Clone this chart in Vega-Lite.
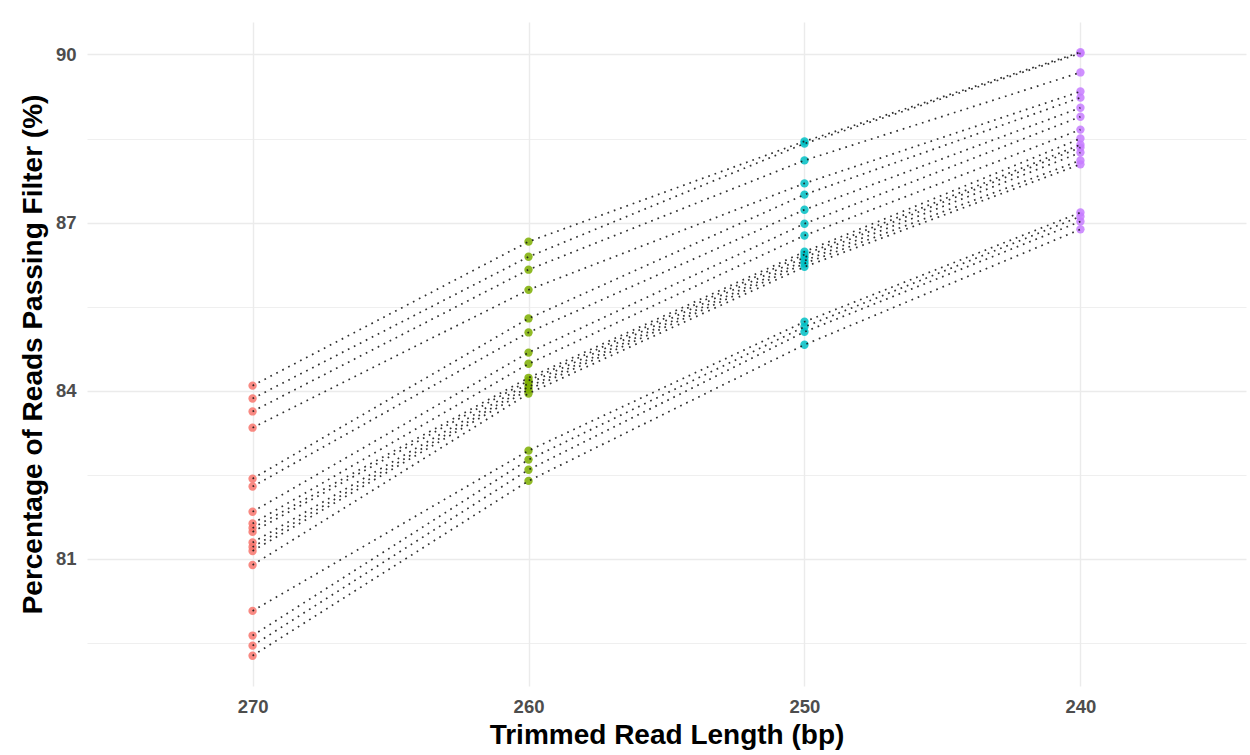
{
  "$schema": "https://vega.github.io/schema/vega-lite/v6.json",
  "autosize": "none",
  "width": 1159,
  "height": 664,
  "padding": {"left": 87, "top": 22, "right": 4, "bottom": 69},
  "background": "white",
  "config": {
    "view": {"stroke": null},
    "font": "Liberation Sans",
    "axis": {
      "domain": false,
      "ticks": false,
      "gridColor": "#EBEBEB",
      "labelFont": "Liberation Sans",
      "labelFontWeight": "bold",
      "labelColor": "#4D4D4D",
      "labelFontSize": 18.5,
      "titleFont": "Liberation Sans",
      "titleFontWeight": "bold",
      "titleColor": "#000000",
      "titleFontSize": 28
    }
  },
  "data": {
    "values": [
      {"sample": "S01", "len": 270, "pct": 84.09}, {"sample": "S01", "len": 260, "pct": 86.66}, {"sample": "S01", "len": 250, "pct": 88.45}, {"sample": "S01", "len": 240, "pct": 90.04},
      {"sample": "S02", "len": 270, "pct": 83.86}, {"sample": "S02", "len": 260, "pct": 86.39}, {"sample": "S02", "len": 250, "pct": 88.41}, {"sample": "S02", "len": 240, "pct": 90.02},
      {"sample": "S03", "len": 270, "pct": 83.63}, {"sample": "S03", "len": 260, "pct": 86.16}, {"sample": "S03", "len": 250, "pct": 88.11}, {"sample": "S03", "len": 240, "pct": 89.68},
      {"sample": "S04", "len": 270, "pct": 83.34}, {"sample": "S04", "len": 260, "pct": 85.80}, {"sample": "S04", "len": 250, "pct": 87.70}, {"sample": "S04", "len": 240, "pct": 89.34},
      {"sample": "S05", "len": 270, "pct": 82.43}, {"sample": "S05", "len": 260, "pct": 85.29}, {"sample": "S05", "len": 250, "pct": 87.50}, {"sample": "S05", "len": 240, "pct": 89.23},
      {"sample": "S06", "len": 270, "pct": 82.29}, {"sample": "S06", "len": 260, "pct": 85.04}, {"sample": "S06", "len": 250, "pct": 87.23}, {"sample": "S06", "len": 240, "pct": 89.05},
      {"sample": "S07", "len": 270, "pct": 81.84}, {"sample": "S07", "len": 260, "pct": 84.68}, {"sample": "S07", "len": 250, "pct": 86.98}, {"sample": "S07", "len": 240, "pct": 88.89},
      {"sample": "S08", "len": 270, "pct": 81.63}, {"sample": "S08", "len": 260, "pct": 84.48}, {"sample": "S08", "len": 250, "pct": 86.77}, {"sample": "S08", "len": 240, "pct": 88.66},
      {"sample": "S09", "len": 270, "pct": 81.55}, {"sample": "S09", "len": 260, "pct": 84.23}, {"sample": "S09", "len": 250, "pct": 86.48}, {"sample": "S09", "len": 240, "pct": 88.50},
      {"sample": "S10", "len": 270, "pct": 81.48}, {"sample": "S10", "len": 260, "pct": 84.18}, {"sample": "S10", "len": 250, "pct": 86.43}, {"sample": "S10", "len": 240, "pct": 88.39},
      {"sample": "S11", "len": 270, "pct": 81.29}, {"sample": "S11", "len": 260, "pct": 84.13}, {"sample": "S11", "len": 250, "pct": 86.38}, {"sample": "S11", "len": 240, "pct": 88.34},
      {"sample": "S12", "len": 270, "pct": 81.21}, {"sample": "S12", "len": 260, "pct": 84.07}, {"sample": "S12", "len": 250, "pct": 86.32}, {"sample": "S12", "len": 240, "pct": 88.25},
      {"sample": "S13", "len": 270, "pct": 81.14}, {"sample": "S13", "len": 260, "pct": 84.02}, {"sample": "S13", "len": 250, "pct": 86.27}, {"sample": "S13", "len": 240, "pct": 88.11},
      {"sample": "S14", "len": 270, "pct": 80.89}, {"sample": "S14", "len": 260, "pct": 83.95}, {"sample": "S14", "len": 250, "pct": 86.21}, {"sample": "S14", "len": 240, "pct": 88.04},
      {"sample": "S15", "len": 270, "pct": 80.07}, {"sample": "S15", "len": 260, "pct": 82.93}, {"sample": "S15", "len": 250, "pct": 85.23}, {"sample": "S15", "len": 240, "pct": 87.18},
      {"sample": "S16", "len": 270, "pct": 79.63}, {"sample": "S16", "len": 260, "pct": 82.77}, {"sample": "S16", "len": 250, "pct": 85.14}, {"sample": "S16", "len": 240, "pct": 87.11},
      {"sample": "S17", "len": 270, "pct": 79.45}, {"sample": "S17", "len": 260, "pct": 82.59}, {"sample": "S17", "len": 250, "pct": 85.05}, {"sample": "S17", "len": 240, "pct": 87.02},
      {"sample": "S18", "len": 270, "pct": 79.27}, {"sample": "S18", "len": 260, "pct": 82.39}, {"sample": "S18", "len": 250, "pct": 84.82}, {"sample": "S18", "len": 240, "pct": 86.88}
    ]
  },
  "encoding": {
    "x": {
      "field": "len",
      "type": "ordinal",
      "sort": "descending",
      "scale": {"type": "point", "padding": 0.6},
      "axis": {
        "title": "Trimmed Read Length (bp)",
        "labelAngle": 0,
        "labelPadding": 11,
        "titlePadding": 6,
        "grid": true,
        "gridWidth": 1.4
      }
    },
    "y": {
      "field": "pct",
      "type": "quantitative",
      "scale": {"domain": [78.73, 90.58], "nice": false, "zero": false},
      "axis": {
        "title": "Percentage of Reads Passing Filter (%)",
        "values": [79.5, 81, 82.5, 84, 85.5, 87, 88.5, 90],
        "labelExpr": "datum.value % 3 === 0 ? datum.label : ''",
        "labelPadding": 11,
        "titlePadding": 8,
        "gridWidth": {"condition": {"test": "datum.value % 3 === 0", "value": 1.4}, "value": 0.8}
      }
    }
  },
  "layer": [
    {
      "mark": {"type": "point", "filled": true, "size": 70, "opacity": 0.85},
      "encoding": {
        "color": {
          "field": "len",
          "type": "nominal",
          "scale": {"domain": [270, 260, 250, 240], "range": ["#F8766D", "#7CAE00", "#00BFC4", "#C77CFF"]},
          "legend": null
        }
      }
    },
    {
      "mark": {"type": "line", "color": "#1a1a1a", "strokeWidth": 1.7, "strokeDash": [1.7, 5], "opacity": 0.9},
      "encoding": {
        "detail": {"field": "sample", "type": "nominal"},
        "order": {"field": "len", "sort": "descending"}
      }
    }
  ]
}
